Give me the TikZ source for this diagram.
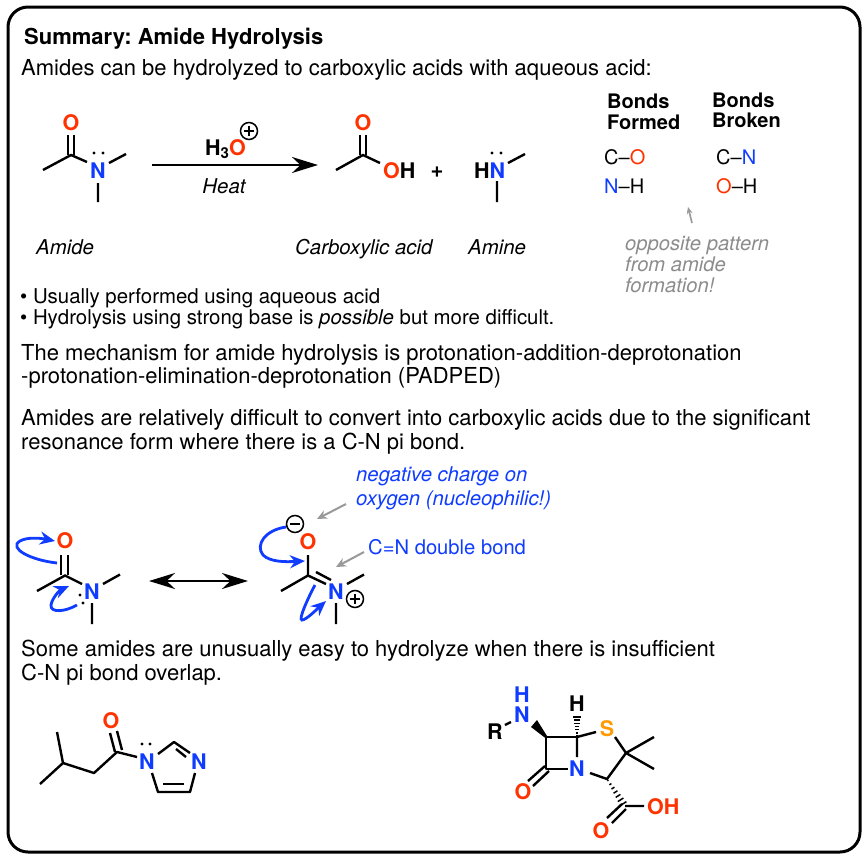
\documentclass[tikz,border=0pt]{standalone}
\usepackage{fontspec}
\setmainfont{TeX Gyre Heros}
\usetikzlibrary{arrows.meta}
\definecolor{cred}{HTML}{FF3300}
\definecolor{cblue}{HTML}{0F3CFF}
\definecolor{corange}{HTML}{FF9A00}
\definecolor{cgrey}{HTML}{8C8C8C}
\newcommand{\fs}[1]{\fontsize{#1}{#1}\selectfont\frenchspacing}
\tikzset{
 x=1pt,y=-1pt,
 txt/.style={inner sep=0pt,anchor=base west,font=\fs{22}},
 lab/.style={inner sep=0pt,anchor=base west,font=\fs{20.4}\itshape},
 atom/.style={inner sep=0pt,anchor=center,font=\fs{21.5}\bfseries},
 rd/.style={atom,text=cred},
 bl/.style={atom,text=cblue},
 bond/.style={draw=black,line width=2.4pt},
 curv/.style={draw=cblue,line width=2.8pt,-{Stealth[length=15pt,width=13pt]}},
 grar/.style={draw=gray!80,line width=2pt,-{Stealth[length=10pt,width=9pt]}},
 chg/.style={circle,draw=black,line width=1.5pt,minimum size=17pt,inner sep=0pt},
 dotp/.style={fill=black,circle,inner sep=0pt,minimum size=3.2pt},
}
\begin{document}
\begin{tikzpicture}
\useasboundingbox (0,0) rectangle (868,860);
\fill[white] (0,0) rectangle (868,860);
\draw[line width=3pt,rounded corners=20pt] (8,7) rectangle (860,852);
% texts
\node[txt,font=\fs{22}\bfseries] (title) at (24,44) {Summary: Amide Hydrolysis};
\node[txt] (t1) at (21,75.5) {Amides can be hydrolyzed to carboxylic acids with aqueous acid:};
\node[txt,font=\fs{20.4}] (b1) at (20,303.5) {• Usually performed using aqueous acid};
\node[txt,font=\fs{20.4}] (b2) at (20,324) {• Hydrolysis using strong base is \textit{possible} but more difficult.};
\node[txt] (m1) at (21,360) {The mechanism for amide hydrolysis is protonation-addition-deprotonation};
\node[txt] (m2) at (21,383) {-protonation-elimination-deprotonation (PADPED)};
\node[txt] (a1) at (21,425) {Amides are relatively difficult to convert into carboxylic acids due to the significant};
\node[txt] (a2) at (21,449) {resonance form where there is a C-N pi bond.};
\node[txt] (s1) at (21,656) {Some amides are unusually easy to hydrolyze when there is insufficient};
\node[txt] (s2) at (21,680) {C-N pi bond overlap.};
% amide
\node[rd] (o1) at (71,123) {O};
\node[bl] (n1) at (98,171) {N};
\draw[bond] (43,170)--(71,155)--(87,162);
\draw[bond] (68,135)--(68,155) (74,135)--(74,155);
\draw[bond] (109,163)--(126,154) (98,183)--(98,202);
\node[dotp] (d1) at (94,153) {}; \node[dotp] (d2) at (103,153) {};
% arrow
\draw[line width=2.6pt,-{Stealth[length=26pt,width=16pt]}] (152,165)--(318,165);
\node[inner sep=0pt,anchor=base west,font=\fs{21.5}\bfseries] (h3o) at (205,155) {H\raisebox{-3pt}{\fs{15}\bfseries 3}\textcolor{cred}{O}};
\node[chg] (pl) at (249,131) {}; \draw[line width=1.5pt] (244,131)--(254,131) (249,126)--(249,136);
\node[lab,anchor=base] (heat) at (224,193) {Heat};
% acid
\node[rd] (o2) at (363,123) {O};
\draw[bond] (336,170)--(363,155)--(380,163);
\draw[bond] (360,135)--(360,155) (366,135)--(366,155);
\node[inner sep=0pt,anchor=base west,font=\fs{21.5}\bfseries] (oh) at (383,178) {\textcolor{cred}{O}H};
\node[atom,font=\fs{22}\bfseries] (plus) at (437,172) {+};
% amine
\node[inner sep=0pt,anchor=base west,font=\fs{21.5}\bfseries] (hn) at (474,178) {H\textcolor{cblue}{N}};
\draw[bond] (508,163)--(525,154) (497,181)--(497,202);
\node[dotp] (d3) at (492,153) {}; \node[dotp] (d4) at (501,153) {};
% labels
\node[lab] (l1) at (36,254) {Amide};
\node[lab] (l2) at (295,254) {Carboxylic acid};
\node[lab] (l3) at (468,254) {Amine};
% bonds table
\node[txt,font=\fs{20}\bfseries] (bf1) at (607,108) {Bonds};
\node[txt,font=\fs{20}\bfseries] (bf2) at (607,129) {Formed};
\node[txt,font=\fs{20}\bfseries] (bb1) at (712,107) {Bonds};
\node[txt,font=\fs{20}\bfseries] (bb2) at (712,127) {Broken};
\node[txt,font=\fs{20}] (co) at (604,164) {C–\textcolor{cred}{O}};
\node[txt,font=\fs{20}] (nh) at (604,193) {\textcolor{cblue}{N}–H};
\node[txt,font=\fs{20}] (cn) at (716,164) {C–\textcolor{cblue}{N}};
\node[txt,font=\fs{20}] (oh2) at (716,193) {\textcolor{cred}{O}–H};
\coordinate (g0) at (692,223); \coordinate (g1) at (688,207);
\draw[grar,line width=1.6pt,-{Stealth[length=7pt,width=6pt]}] (g0)--(g1);
\node[lab,font=\fs{20.2}\itshape,text=cgrey] (op1) at (625,250) {opposite pattern};
\node[lab,font=\fs{20.2}\itshape,text=cgrey] (op2) at (625,271) {from amide};
\node[lab,font=\fs{20.2}\itshape,text=cgrey] (op3) at (625,292) {formation!};
% resonance left
\node[rd] (o3) at (65,541) {O};
\node[bl] (n3) at (92,592) {N};
\draw[bond] (37,591)--(65,575.5)--(82,584);
\draw[bond] (61,555)--(61,575) (68,555)--(68,575);
\draw[bond] (103,584)--(120,574.5) (92,603)--(92,624);
\node[dotp] (d5) at (80,595) {}; \node[dotp] (d6) at (83,603) {};
\draw[curv] (57,563) .. controls (30,560) and (8,548) .. (20,541) .. controls (27,537) and (40,538) .. (55,541);
\draw[curv] (77,605) .. controls (65,612) and (50,613) .. (51,605) .. controls (52,598) and (60,590) .. (69,586);
\draw[line width=2.6pt,{Stealth[length=26pt,width=16pt]}-{Stealth[length=26pt,width=16pt]}] (149,581)--(248,581);
% resonance right
\node[rd] (o4) at (308,542) {O};
\node[bl] (n4) at (336,592) {N};
\draw[bond] (281,591)--(308,575.5)--(326,584);
\draw[bond] (308,555)--(308,575.5) (316,572)--(331,580);
\draw[bond] (347,584)--(364,574.5) (336,603)--(336,624);
\node[chg] (pl2) at (355,599) {}; \draw[line width=1.5pt] (350,599)--(360,599) (355,594)--(355,604);
\node[chg] (mn) at (295,524) {}; \draw[line width=1.5pt] (290,524)--(300,524);
\draw[curv] (286,527) .. controls (265,530) and (255,545) .. (263,555) .. controls (270,562) and (285,562) .. (305,561);
\draw[curv] (315,585) .. controls (308,598) and (298,620) .. (302,620) .. controls (306,620) and (316,610) .. (326,601);
\coordinate (g2) at (346,504); \coordinate (g3) at (317,519);
\coordinate (g4) at (364,552); \coordinate (g5) at (336,567);
\draw[grar] (g2)--(g3); \draw[grar] (g4)--(g5);
\node[lab,font=\fs{20.3}\itshape,text=cblue] (neg1) at (356,481) {negative charge on};
\node[lab,font=\fs{20.3}\itshape,text=cblue] (neg2) at (356,505) {oxygen (nucleophilic!)};
\node[txt,font=\fs{20.2},text=cblue] (cnd) at (368,554) {C=N double bond};
% imidazole
\node[rd] (o5) at (111,721) {O};
\node[bl] (n5) at (147,762) {N};
\node[bl] (n6) at (199,762) {N};
\draw[bond,line join=round] (57,732)--(63,763)--(40,784) (63,763)--(94,773)--(117,752)--(137,757);
\draw[bond] (110,733)--(115,752) (117,731)--(122,750);
\draw[bond,line join=round] (158,754)--(174,742)--(190,753);
\draw[bond] (176,749)--(186,757);
\draw[bond,line join=round] (195,773)--(190,792)--(158,792)--(152,773);
\draw[bond] (163,784)--(184,784);
\node[dotp] (d7) at (142,744) {}; \node[dotp] (d8) at (150,744) {};
% penicillin
\node[atom] (r) at (495,732) {R};
\node[bl] (n7) at (522,715) {N};
\node[bl] (h7) at (522,695) {H};
\node[atom] (h8) at (577,704) {H};
\node[atom,text=corange] (s) at (607,729) {S};
\node[bl] (n8) at (577,769) {N};
\node[rd] (o7) at (523,792) {O};
\node[rd] (o8) at (601,831) {O};
\node[inner sep=0pt,anchor=base west,font=\fs{21.5}\bfseries,text=cred] (oh7) at (647,814) {OH};
\draw[bond] (505,725)--(511,722);
\fill (531,727)--(537,720)--(547,736)--(546,738.5)--cycle;
\draw[bond,line join=round] (577,737)--(546,737)--(546,769)--(568,769);
\draw[bond] (577,737)--(577,757) (577,737)--(596,732);
\draw[bond] (545,766)--(528,781) (549,771)--(533,786);
\draw[bond,line join=round] (615,737)--(626,753)--(607,779)--(590,773);
\draw[bond] (626,753)--(654,737) (626,753)--(654,769);
\draw[bond] (625,806)--(644,806) (622,804)--(607,818) (626,809)--(612,823);
\foreach \t in {0.05,0.2,...,1.0}{
 \draw[line width=1.5pt] ({577-0.5-3.6*\t},{737-21*\t}) -- ({577+0.5+3.6*\t},{737-21*\t});
}
\foreach \t in {0.05,0.2,...,1.0}{
 \draw[line width=1.5pt] ({607+17*\t-(0.5+3.5*\t)*0.84},{779+26*\t+(0.5+3.5*\t)*0.54}) -- ({607+17*\t+(0.5+3.5*\t)*0.84},{779+26*\t-(0.5+3.5*\t)*0.54});
}
\end{tikzpicture}
\end{document}
